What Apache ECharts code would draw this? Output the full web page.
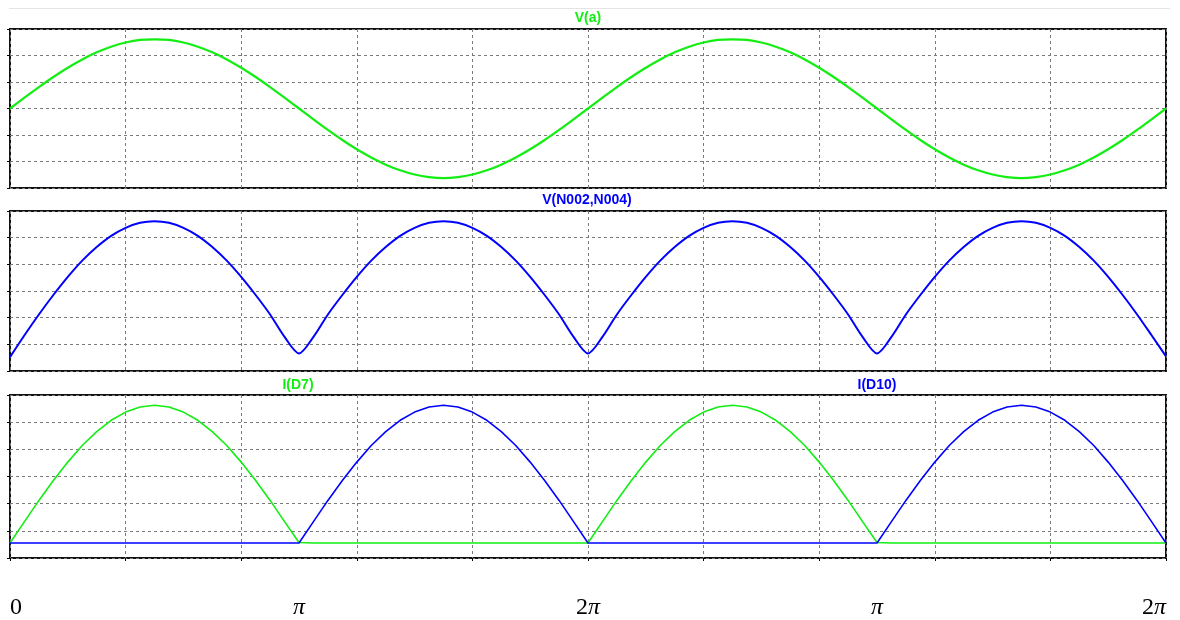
<!DOCTYPE html>
<html>
<head>
<meta charset="utf-8">
<script src="https://cdn.jsdelivr.net/npm/echarts@6/dist/echarts.min.js"></script>
<style>
  html, body { margin: 0; padding: 0; background: #ffffff; }
  #chart { width: 1180px; height: 620px; }
</style>
</head>
<body>
<div id="chart"></div>
<script>
// time axis (ms), 4 ms per grid division, 20 ms per period
const t = [0,0.5,1,1.5,2,2.5,3,3.5,4,4.5,5,5.5,6,6.5,7,7.5,8,8.5,9,9.5,10,
  10.5,11,11.5,12,12.5,13,13.5,14,14.5,15,15.5,16,16.5,17,17.5,18,18.5,19,19.5,20,
  20.5,21,21.5,22,22.5,23,23.5,24,24.5,25,25.5,26,26.5,27,27.5,28,28.5,29,29.5,30,
  30.5,31,31.5,32,32.5,33,33.5,34,34.5,35,35.5,36,36.5,37,37.5,38,38.5,39,39.5,40];

// V(a): source voltage (in grid divisions)
const vA = [0,0.41,0.81,1.19,1.54,1.85,2.12,2.33,2.49,2.59,2.61,2.59,2.49,2.33,2.12,1.85,1.54,1.19,0.81,0.41,0,
  -0.41,-0.81,-1.19,-1.54,-1.85,-2.12,-2.33,-2.49,-2.59,-2.63,-2.59,-2.49,-2.33,-2.12,-1.85,-1.54,-1.19,-0.81,-0.41,0,
  0.41,0.81,1.19,1.54,1.85,2.12,2.33,2.49,2.59,2.61,2.59,2.49,2.33,2.12,1.85,1.54,1.19,0.81,0.41,0,
  -0.41,-0.81,-1.19,-1.54,-1.85,-2.12,-2.33,-2.49,-2.59,-2.63,-2.59,-2.49,-2.33,-2.12,-1.85,-1.54,-1.19,-0.81,-0.41,0];

// V(N002,N004): rectified output
const vN = [0.52,1.34,2.12,2.85,3.53,4.14,4.65,5.07,5.37,5.56,5.62,5.56,5.37,5.07,4.65,4.14,3.53,2.85,2.12,1.28,0.66,
  1.28,2.12,2.85,3.53,4.14,4.65,5.07,5.37,5.56,5.62,5.56,5.37,5.07,4.65,4.14,3.53,2.85,2.12,1.28,0.66,
  1.28,2.12,2.85,3.53,4.14,4.65,5.07,5.37,5.56,5.62,5.56,5.37,5.07,4.65,4.14,3.53,2.85,2.12,1.28,0.66,
  1.28,2.12,2.85,3.53,4.14,4.65,5.07,5.37,5.56,5.62,5.56,5.37,5.07,4.65,4.14,3.53,2.85,2.12,1.34,0.55];

// I(D7): diode current, conducts on positive half-cycles
const iD7 = [0.55,1.34,2.12,2.85,3.53,4.14,4.65,5.07,5.37,5.56,5.62,5.56,5.37,5.07,4.65,4.14,3.53,2.85,2.12,1.34,0.57,
  0.55,0.55,0.55,0.55,0.55,0.55,0.55,0.55,0.55,0.55,0.55,0.55,0.55,0.55,0.55,0.55,0.55,0.55,0.55,0.55,
  1.34,2.12,2.85,3.53,4.14,4.65,5.07,5.37,5.56,5.62,5.56,5.37,5.07,4.65,4.14,3.53,2.85,2.12,1.34,0.57,
  0.55,0.55,0.55,0.55,0.55,0.55,0.55,0.55,0.55,0.55,0.55,0.55,0.55,0.55,0.55,0.55,0.55,0.55,0.55,0.55];

// I(D10): diode current, conducts on negative half-cycles
const iD10 = [0.55,0.55,0.55,0.55,0.55,0.55,0.55,0.55,0.55,0.55,0.55,0.55,0.55,0.55,0.55,0.55,0.55,0.55,0.55,0.55,0.55,
  1.34,2.12,2.85,3.53,4.14,4.65,5.07,5.37,5.56,5.62,5.56,5.37,5.07,4.65,4.14,3.53,2.85,2.12,1.34,0.55,
  0.55,0.55,0.55,0.55,0.55,0.55,0.55,0.55,0.55,0.55,0.55,0.55,0.55,0.55,0.55,0.55,0.55,0.55,0.55,0.55,
  1.34,2.12,2.85,3.53,4.14,4.65,5.07,5.37,5.56,5.62,5.56,5.37,5.07,4.65,4.14,3.53,2.85,2.12,1.34,0.55];

const phaseTicks = [0, 10, 20, 30, 40];
const phaseLabels = ['0', 'π', '2π', 'π', '2π'];

const GREEN = '#12ee12';
const BLUE = '#0000ff';
const zip = (xs, ys) => xs.map((x, i) => [x, ys[i]]);

const grids = [
  { left: 10, right: 14, top: 29, height: 159 },
  { left: 10, right: 14, top: 211, height: 160 },
  { left: 10, right: 14, top: 395, height: 164 }
].map(g => Object.assign(g, { show: true, borderColor: '#111', borderWidth: 2, backgroundColor: 'transparent', containLabel: false }));

const split = { show: true, lineStyle: { color: '#7a7a7a', width: 1, type: [3, 3] } };

const xAxes = [0, 1, 2].map(i => ({
  type: 'value', gridIndex: i, min: 0, max: 40, interval: 4,
  axisLine: { show: false },
  axisTick: { show: i === 2, length: 3, lineStyle: { color: '#000', width: 1 } },
  axisLabel: { show: false },
  splitLine: split
}));
xAxes.push({
  type: 'value', gridIndex: 2, min: 0, max: 40, interval: 10, position: 'bottom',
  axisLine: { show: false }, axisTick: { show: false }, splitLine: { show: false },
  axisLabel: {
    show: true, margin: 38,
    alignMinLabel: 'left', alignMaxLabel: 'right',
    formatter: v => {
      const s = phaseLabels[phaseTicks.indexOf(v)] || '';
      return s.split('').map(c => c === 'π' ? '{p|π}' : '{n|' + c + '}').join('');
    },
    rich: {
      n: { fontFamily: 'Liberation Serif', fontSize: 24, color: '#000' },
      p: { fontFamily: 'Liberation Serif', fontSize: 24, fontStyle: 'italic', color: '#000' }
    }
  }
});

const yRanges = [[-3, 3], [0, 6], [0, 6]];
const yAxes = yRanges.map((r, i) => ({
  type: 'value', gridIndex: i, min: r[0], max: r[1], interval: 1,
  axisLine: { show: false },
  axisTick: { show: true, length: 3, lineStyle: { color: '#000', width: 1 } },
  axisLabel: { show: false },
  splitLine: split
}));

const line = (name, xi, ys, color, width, smooth) => ({
  name, type: 'line', xAxisIndex: xi, yAxisIndex: xi,
  data: zip(t, ys), showSymbol: false, smooth: smooth,
  lineStyle: { color, width }, itemStyle: { color }, emphasis: { disabled: true },
  z: 3
});

const titleFont = 'bold 14px "Liberation Sans", Arial, sans-serif';
const chart = echarts.init(document.getElementById('chart'), null, { renderer: 'canvas' });
chart.setOption({
  backgroundColor: '#ffffff',
  animation: false,
  grid: grids,
  xAxis: xAxes,
  yAxis: yAxes,
  graphic: [
    { type: 'line', shape: { x1: 9, y1: 8.5, x2: 1170, y2: 8.5 }, style: { stroke: '#e4e4e4', lineWidth: 1 }, silent: true },
    { type: 'text', x: 588, y: 18, style: { text: 'V(a)', fill: GREEN, font: titleFont, align: 'center', verticalAlign: 'middle' } },
    { type: 'text', x: 587, y: 200, style: { text: 'V(N002,N004)', fill: BLUE, font: titleFont, align: 'center', verticalAlign: 'middle' } },
    { type: 'text', x: 298, y: 385, style: { text: 'I(D7)', fill: GREEN, font: titleFont, align: 'center', verticalAlign: 'middle' } },
    { type: 'text', x: 877, y: 385, style: { text: 'I(D10)', fill: BLUE, font: titleFont, align: 'center', verticalAlign: 'middle' } }
  ],
  series: [
    line('V(a)', 0, vA, GREEN, 2.2, 0.3),
    line('V(N002,N004)', 1, vN, BLUE, 2, 0.3),
    line('I(D7)', 2, iD7, GREEN, 1.6, false),
    line('I(D10)', 2, iD10, BLUE, 1.6, false)
  ]
});
</script>
</body>
</html>
